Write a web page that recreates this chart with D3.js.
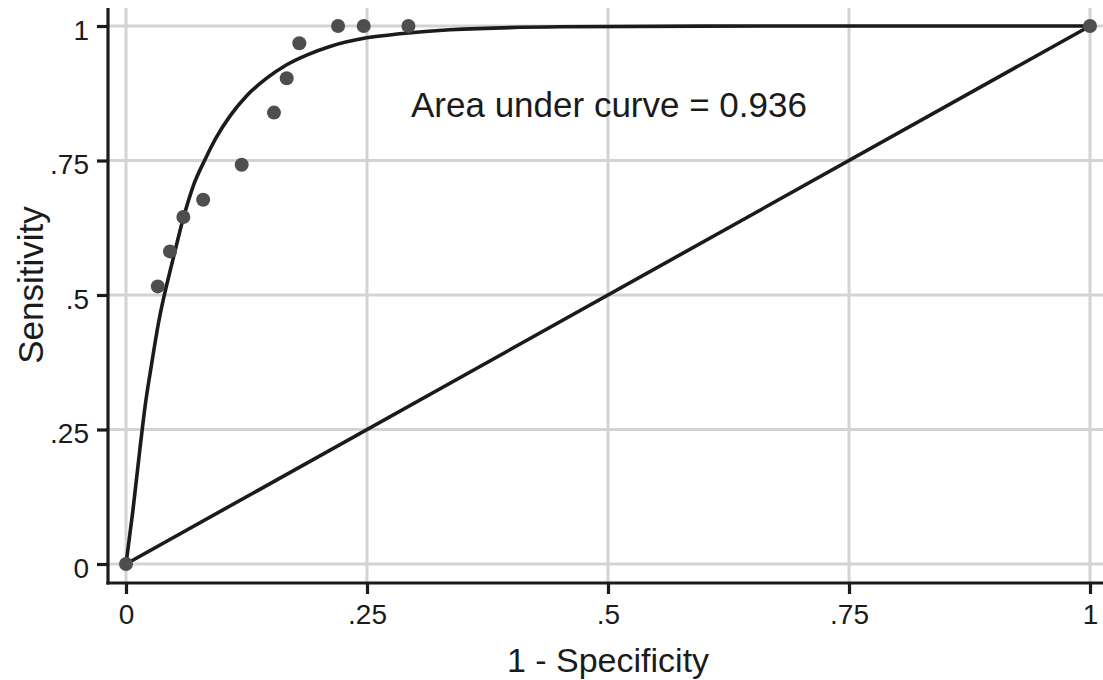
<!DOCTYPE html>
<html>
<head>
<meta charset="utf-8">
<script src="https://cdn.jsdelivr.net/npm/d3@7"></script>
<style>
  html, body { margin: 0; padding: 0; background: #fff; }
  svg { display: block; font-family: "Liberation Sans", Arial, Helvetica, sans-serif; }
</style>
</head>
<body>
<div id="chart"></div>
<script>
// observed ROC points (1 - specificity, sensitivity)
const pointX = [0, 0.033, 0.0456, 0.0595, 0.080, 0.120, 0.1535, 0.1667, 0.1798, 0.220, 0.2466, 0.293, 1];
const pointY = [0, 0.516, 0.581, 0.645, 0.677, 0.742, 0.839, 0.903, 0.968, 1, 1, 1, 1];

// fitted ROC curve
const curveX = [0, 0.007, 0.0145, 0.0197, 0.0266, 0.0335, 0.0498, 0.0595, 0.0698, 0.082, 0.094, 0.108,
  0.125, 0.146, 0.1667, 0.1874, 0.2116, 0.2497, 0.284, 0.336, 0.45, 0.6, 0.8, 1];
const curveY = [0, 0.097, 0.215, 0.292, 0.372, 0.446, 0.574, 0.643, 0.703, 0.752, 0.794, 0.833,
  0.870, 0.903, 0.928, 0.946, 0.962, 0.978, 0.9855, 0.993, 0.9985, 0.9998, 1, 1];

// reference (chance) line
const refX = [0, 1];
const refY = [0, 1];

const tickValues = [0, 0.25, 0.5, 0.75, 1];
const tickLabels = ['0', '.25', '.5', '.75', '1'];

const xTitle = '1 - Specificity';
const yTitle = 'Sensitivity';
const note = 'Area under curve = 0.936';

const width = 1103;
const height = 680;
const plot = { left: 108, right: 1103, top: 8, bottom: 583 };

const x = d3.scaleLinear().domain([0, 1]).range([126, 1090]);
const y = d3.scaleLinear().domain([0, 1]).range([564, 26]);

const ink = '#1c1b1b';
const gridColor = '#d3d3d5';
const label = d => tickLabels[tickValues.indexOf(d)];

const svg = d3
  .select('#chart')
  .append('svg')
  .attr('width', width)
  .attr('height', height);

// grid
const grid = svg.append('g').attr('class', 'grid');
grid
  .selectAll('line.gx')
  .data(tickValues)
  .join('line')
  .attr('class', 'gx')
  .attr('x1', d => x(d))
  .attr('x2', d => x(d))
  .attr('y1', plot.top)
  .attr('y2', plot.bottom)
  .attr('stroke', gridColor)
  .attr('stroke-width', 3);
grid
  .selectAll('line.gy')
  .data(tickValues)
  .join('line')
  .attr('class', 'gy')
  .attr('x1', plot.left)
  .attr('x2', plot.right)
  .attr('y1', d => y(d))
  .attr('y2', d => y(d))
  .attr('stroke', gridColor)
  .attr('stroke-width', 3);

// axes
const yAxis = svg
  .append('g')
  .attr('transform', `translate(${plot.left}, 0)`)
  .call(d3.axisLeft(y).tickValues(tickValues).tickFormat(label).tickSize(11).tickPadding(8));
const xAxis = svg
  .append('g')
  .attr('transform', `translate(0, ${plot.bottom})`)
  .call(d3.axisBottom(x).tickValues(tickValues).tickFormat(label).tickSize(11).tickPadding(10));

[xAxis, yAxis].forEach(g => {
  g.select('.domain').remove();
  g.attr('font-family', null).attr('font-size', null);
  g.selectAll('line').attr('stroke', ink).attr('stroke-width', 3.2);
  g.selectAll('text').attr('fill', ink).style('font-size', '28px');
});
yAxis.selectAll('text').attr('dy', '0.48em');

svg
  .append('line')
  .attr('x1', plot.left)
  .attr('x2', plot.left)
  .attr('y1', plot.top)
  .attr('y2', plot.bottom + 1.6)
  .attr('stroke', ink)
  .attr('stroke-width', 3.2);
svg
  .append('line')
  .attr('x1', plot.left - 1.6)
  .attr('x2', plot.right)
  .attr('y1', plot.bottom)
  .attr('y2', plot.bottom)
  .attr('stroke', ink)
  .attr('stroke-width', 3.2);

// lines
const line = d3
  .line()
  .x(d => x(d[0]))
  .y(d => y(d[1]));

svg
  .append('path')
  .attr('d', line(d3.zip(refX, refY)))
  .attr('fill', 'none')
  .attr('stroke', ink)
  .attr('stroke-width', 3.6);

svg
  .append('path')
  .attr('d', line.curve(d3.curveMonotoneX)(d3.zip(curveX, curveY)))
  .attr('fill', 'none')
  .attr('stroke', ink)
  .attr('stroke-width', 3.6);

// points
svg
  .append('g')
  .selectAll('circle')
  .data(d3.zip(pointX, pointY))
  .join('circle')
  .attr('cx', d => x(d[0]))
  .attr('cy', d => y(d[1]))
  .attr('r', 7)
  .attr('fill', '#4e4e50');

// texts
svg
  .append('text')
  .attr('x', 411)
  .attr('y', 117)
  .style('font-size', '35px')
  .attr('fill', ink)
  .text(note);

svg
  .append('text')
  .attr('x', x(0.5))
  .attr('y', 672)
  .attr('text-anchor', 'middle')
  .style('font-size', '34px')
  .attr('fill', ink)
  .text(xTitle);

svg
  .append('text')
  .attr('transform', 'translate(43, 285) rotate(-90)')
  .attr('text-anchor', 'middle')
  .style('font-size', '35px')
  .attr('fill', ink)
  .text(yTitle);
</script>
</body>
</html>
